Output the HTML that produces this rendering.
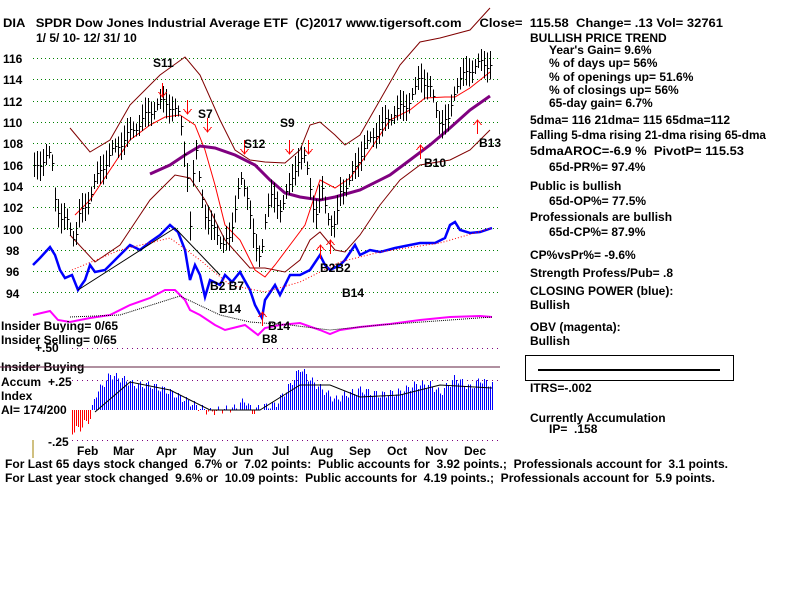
<!DOCTYPE html>
<html><head><meta charset="utf-8">
<style>
body{margin:0;background:#fff;width:800px;height:600px;overflow:hidden}
svg{position:absolute;left:0;top:0}
text{font-family:"Liberation Sans",Arial,sans-serif;font-weight:bold;font-size:12px;fill:#000;white-space:pre}
</style></head><body>
<svg id="s" width="800" height="600" xmlns="http://www.w3.org/2000/svg" xml:space="preserve">
<g id="grid"></g>
<g id="plots" shape-rendering="crispEdges"></g>
<text x="3" y="27" font-size="13" textLength="720" lengthAdjust="spacingAndGlyphs">DIA   SPDR Dow Jones Industrial Average ETF  (C)2017 www.tigersoft.com     Close=  115.58  Change= .13 Vol= 32761</text>
<text x="36" y="42" font-size="13">1/ 5/ 10- 12/ 31/ 10</text>
<g font-size="14">
<text x="3" y="63">116</text><text x="3" y="84">114</text><text x="3" y="106">112</text><text x="3" y="127">110</text><text x="3" y="148">108</text><text x="3" y="170">106</text><text x="3" y="191">104</text><text x="3" y="212">102</text><text x="3" y="234">100</text><text x="6" y="255">98</text><text x="6" y="276">96</text><text x="6" y="298">94</text>
</g>
<text x="153" y="67" font-size="15">S11</text>
<text x="198" y="118" font-size="15">S7</text>
<text x="280" y="127" font-size="15">S9</text>
<text x="244" y="148" font-size="15">S12</text>
<text x="424" y="167" font-size="15">B10</text>
<text x="479" y="147" font-size="15">B13</text>
<text x="210" y="290" font-size="15">B2 B7</text>
<text x="219" y="313" font-size="15">B14</text>
<text x="268" y="330" font-size="15">B14</text>
<text x="262" y="343" font-size="15">B8</text>
<text x="342" y="297" font-size="15">B14</text>
<text x="320" y="272" font-size="15">B2B2</text>
<text x="1" y="330" font-size="13">Insider Buying= 0/65</text>
<text x="1" y="344" font-size="13">Insider Selling= 0/65</text>
<text x="35" y="352">+.50</text>
<text x="1" y="371" font-size="13">Insider Buying</text>
<text x="1" y="386" font-size="13">Accum</text><text x="48" y="386">+.25</text>
<text x="1" y="400" font-size="13">Index</text>
<text x="1" y="414" font-size="13">AI= 174/200</text>
<text x="48" y="446">-.25</text>
<g font-size="13">
<text x="77" y="455">Feb</text><text x="113" y="455">Mar</text><text x="156" y="455">Apr</text><text x="193" y="455">May</text><text x="232" y="455">Jun</text><text x="272" y="455">Jul</text><text x="310" y="455">Aug</text><text x="349" y="455">Sep</text><text x="387" y="455">Oct</text><text x="425" y="455">Nov</text><text x="464" y="455">Dec</text>
</g>
<text x="5" y="468" textLength="723" lengthAdjust="spacingAndGlyphs">For Last 65 days stock changed  6.7% or  7.02 points:  Public accounts for  3.92 points.;  Professionals account for  3.1 points.</text>
<text x="5" y="482" textLength="710" lengthAdjust="spacingAndGlyphs">For Last year stock changed  9.6% or  10.09 points:  Public accounts for  4.19 points.;  Professionals account for  5.9 points.</text>
<g>
<text x="530" y="42" font-size="13">BULLISH PRICE TREND</text>
<text x="549" y="54">Year's Gain= 9.6%</text>
<text x="549" y="67">% of days up= 56%</text>
<text x="549" y="81">% of openings up= 51.6%</text>
<text x="549" y="94">% of closings up= 56%</text>
<text x="549" y="107">65-day gain= 6.7%</text>
<text x="530" y="124" textLength="200" lengthAdjust="spacingAndGlyphs">5dma= 116 21dma= 115 65dma=112</text>
<text x="530" y="139" textLength="236" lengthAdjust="spacingAndGlyphs">Falling 5-dma rising 21-dma rising 65-dma</text>
<text x="530" y="155" textLength="214" lengthAdjust="spacingAndGlyphs">5dmaAROC=-6.9 %  PivotP= 115.53</text>
<text x="549" y="171">65d-PR%= 97.4%</text>
<text x="530" y="190">Public is bullish</text>
<text x="549" y="205">65d-OP%= 77.5%</text>
<text x="530" y="221">Professionals are bullish</text>
<text x="549" y="236">65d-CP%= 87.9%</text>
<text x="530" y="259">CP%vsPr%= -9.6%</text>
<text x="530" y="277">Strength Profess/Pub= .8</text>
<text x="530" y="295">CLOSING POWER (blue):</text>
<text x="530" y="309">Bullish</text>
<text x="530" y="331">OBV (magenta):</text>
<text x="530" y="345">Bullish</text>
<text x="530" y="392">ITRS=-.002</text>
<text x="530" y="422">Currently Accumulation</text>
<text x="549" y="433">IP=  .158</text>
</g>
<rect x="525.5" y="355.5" width="208" height="25" fill="none" stroke="#000"/>
<line x1="538" y1="370" x2="720" y2="370" stroke="#000" stroke-width="2"/>
<line x1="0" y1="367" x2="500" y2="367" stroke="#602040" stroke-width="1"/>
<line x1="33" y1="440" x2="33" y2="458" stroke="#a08000"/>
</svg>
<script>
var NS="http://www.w3.org/2000/svg",G=document.getElementById('grid'),P=document.getElementById('plots');
function el(t,a,p){var e=document.createElementNS(NS,t);for(var k in a)e.setAttribute(k,a[k]);(p||P).appendChild(e);return e}
function py(p){return 58+(116-p)*10.65}
for(var v=94;v<=116;v+=2)el('line',{x1:33,x2:500,y1:Math.round(py(v))+.5,y2:Math.round(py(v))+.5,stroke:'#008000','stroke-dasharray':'1,3'},G);
[348,380,440].forEach(function(y){el('line',{x1:72,x2:500,y1:y+.5,y2:y+.5,stroke:'#800080','stroke-dasharray':'1,4'},G)});
function interp(pts,x){for(var i=0;i<pts.length-1;i++){if(x>=pts[i][0]&&x<=pts[i+1][0]){var t=(x-pts[i][0])/(pts[i+1][0]-pts[i][0]);return pts[i][1]+t*(pts[i+1][1]-pts[i][1])}}return pts[x<pts[0][0]?0:pts.length-1][1]}
function line(pts,c,w,d){el('polyline',{points:pts.map(function(p){return p.join(',')}).join(' '),fill:'none',stroke:c,'stroke-width':w||1,'stroke-dasharray':d||'','shape-rendering':'auto'})}
line([[70,128],[90,152],[110,140],[130,105],[160,75],[185,57],[200,75],[220,120],[235,150],[250,160],[265,162],[285,163],[300,150],[310,125],[320,122],[335,135],[345,145],[360,135],[380,100],[400,65],[420,42],[440,38],[470,30],[490,8]],'#800000');
line([[70,235],[95,262],[120,245],[150,200],[175,175],[190,178],[205,200],[225,240],[250,268],[265,268],[285,272],[300,260],[310,240],[320,232],[335,250],[345,252],[360,235],[380,205],[400,180],[420,165],[450,160],[470,150],[490,130]],'#800000');
line([[75,215],[90,200],[110,170],[130,140],[150,125],[165,117],[180,115],[195,125],[205,150],[215,185],[225,225],[240,240],[255,270],[265,277],[275,265],[290,245],[305,225],[320,180],[335,188],[350,178],[370,150],[390,120],[410,110],[425,98],[445,97],[455,97],[470,88],[490,72]],'#ff0000');
line([[150,174],[170,165],[185,155],[200,146],[215,148],[235,155],[255,165],[270,180],[285,193],[300,197],[320,200],[335,197],[360,190],[390,175],[410,160],[430,145],[450,128],[470,110],[490,96]],'#800080',3);
var pr=[[33,105.5],[48,107],[52,106],[55,103],[60,101],[68,100.5],[75,99],[78,101],[85,102],[95,104.5],[110,107],[125,108.5],[140,110],[155,111.5],[165,112],[175,111],[180,110.5],[187,105],[190,100],[195,108],[200,104.5],[205,101],[210,100],[215,100.5],[222,98],[230,99.5],[240,104.5],[248,103],[255,98],[260,97],[265,101],[270,103],[280,102],[290,104],[297,106.5],[305,106.5],[310,104],[315,101],[322,103.5],[330,100.5],[335,100],[340,103.5],[350,104.5],[360,107],[375,109],[385,110],[395,111],[405,111.5],[415,113],[420,114.5],[430,113],[440,110],[448,110],[455,113.5],[470,115],[480,115.5],[490,115.5]];
for(var x=34;x<=491;x+=3){var c=interp(pr,x)+Math.sin(x*1.7)*0.4,h=0.5+Math.abs(Math.sin(x*0.9))*0.9;var X=Math.round(x)+.5;el('line',{x1:X,x2:X,y1:py(c+h),y2:py(c-h),stroke:'#000'});el('line',{x1:X,x2:X+2,y1:Math.round(py(c))+.5,y2:Math.round(py(c))+.5,stroke:'#000'})}
line([[33,265],[40,258],[50,247],[55,255],[60,270],[65,278],[72,275],[78,290],[85,280],[90,265],[95,272],[105,270],[115,260],[130,245],[140,250],[150,242],[160,235],[170,225],[178,232],[185,250],[190,280],[195,265],[200,275],[205,297],[210,280],[220,285],[225,275],[232,282],[240,272],[250,290],[255,305],[262,318],[265,300],[275,285],[280,295],[290,275],[300,275],[310,270],[320,255],[325,265],[330,270],[340,265],[345,260],[355,245],[360,255],[370,250],[380,252],[395,248],[410,245],[420,243],[435,243],[445,238],[450,225],[455,222],[460,230],[470,233],[480,232],[492,228]],'#0000ff',2.5);
line([[78,290],[175,228],[220,275]],'#000',1);
line([[72,270],[120,250],[170,238],[200,260],[230,285],[265,292],[300,282],[340,262],[380,252],[440,243],[492,228]],'#ff0000',1,'1,2');
line([[33,315],[50,311],[58,320],[70,322],[90,318],[110,315],[130,305],[150,298],[165,290],[175,290],[185,300],[190,310],[200,315],[215,325],[225,330],[245,325],[258,335],[265,328],[280,325],[300,323],[320,330],[330,334],[340,330],[360,327],[390,324],[420,320],[450,317],[480,316],[492,317]],'#ff00ff',2);
line([[70,317],[120,315],[180,296],[220,315],[250,322],[290,325],[330,330],[380,325],[492,317]],'#000',1,'1,1');
[[162,83,0],[187,100,0],[207,118,0],[244,140,0],[289,140,0],[308,140,0],[420,145,1],[477,120,1],[320,245,1],[330,240,1],[262,312,1]].forEach(function(a){var x=a[0]+.5,y=a[1];if(a[2])el('path',{d:'M'+x+' '+(y+14)+'V'+y+'M'+(x-4)+' '+(y+5)+'L'+x+' '+y+'L'+(x+4)+' '+(y+5),stroke:'#ff0000',fill:'none'});else el('path',{d:'M'+x+' '+y+'V'+(y+14)+'M'+(x-4)+' '+(y+9)+'L'+x+' '+(y+14)+'L'+(x+4)+' '+(y+9),stroke:'#ff0000',fill:'none'})});
var ai=[[70,432],[80,428],[90,418],[95,395],[110,375],[125,380],[135,385],[150,385],[170,392],[185,400],[200,408],[210,412],[220,410],[235,408],[245,400],[252,412],[260,407],[275,405],[290,385],[300,368],[310,380],[325,392],[335,400],[345,395],[360,390],[380,395],[400,392],[415,385],[430,385],[440,393],[455,378],[470,388],[480,380],[492,385]];
for(var x=72;x<=492;x+=2){var v=interp(ai,x)+Math.sin(x*0.8)*4;el('line',{x1:x+.5,x2:x+.5,y1:410,y2:v,stroke:v>410?'#ff0000':'#0000ff'})}
line([[95,412],[130,382],[170,390],[210,410],[260,410],[300,385],[330,385],[360,397],[400,395],[440,385],[492,388]],'#000',1);
</script>
</body></html>
